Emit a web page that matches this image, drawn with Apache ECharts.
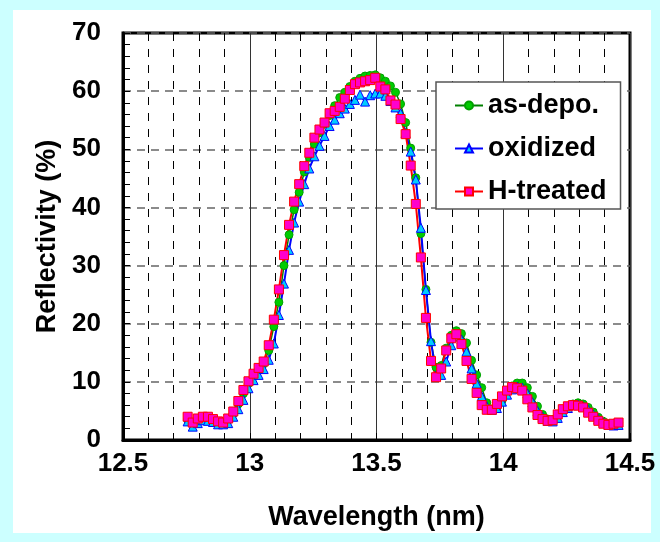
<!DOCTYPE html>
<html>
<head>
<meta charset="utf-8">
<script src="https://cdn.jsdelivr.net/npm/echarts@6/dist/echarts.min.js"></script>
<style>
  html, body { margin: 0; padding: 0; background: #CCFFFF; }
  #panel { position: absolute; left: 13px; top: 10px; width: 638px; height: 523px; background: #FFFFFF; }
  #chart { position: absolute; left: 0; top: 0; width: 660px; height: 542px; }
</style>
</head>
<body>
<div id="panel"></div>
<div id="chart"></div>
<script>
// Wavelength sampling (nm)
const wavelength = [
  12.755, 12.775, 12.795, 12.815, 12.835, 12.855, 12.875, 12.895, 12.915, 12.935,
  12.955, 12.975, 12.995, 13.015, 13.035, 13.055, 13.075, 13.095, 13.115, 13.135,
  13.155, 13.175, 13.195, 13.215, 13.235, 13.255, 13.275, 13.295, 13.315, 13.335,
  13.355, 13.375, 13.395, 13.415, 13.435, 13.455, 13.475, 13.495, 13.515, 13.535,
  13.555, 13.575, 13.595, 13.615, 13.635, 13.655, 13.675, 13.695, 13.715, 13.735,
  13.755, 13.775, 13.795, 13.815, 13.835, 13.855, 13.875, 13.895, 13.915, 13.935,
  13.955, 13.975, 13.995, 14.015, 14.035, 14.055, 14.075, 14.095, 14.115, 14.135,
  14.155, 14.175, 14.195, 14.215, 14.235, 14.255, 14.275, 14.295, 14.315, 14.335,
  14.355, 14.375, 14.395, 14.415, 14.435, 14.455
];

// Reflectivity (%) of each sample
const asDepo = [
  3.5, 2.7, 3.3, 3.7, 3.8, 3.4, 3.0, 2.9, 3.4, 4.5,
  6.2, 8.0, 9.7, 11.0, 12.0, 13.1, 15.4, 19.5, 23.7, 30.0,
  35.3, 39.6, 42.6, 46.1, 48.6, 50.9, 52.8, 54.3, 55.8, 57.5,
  58.9, 59.8, 60.8, 61.7, 62.2, 62.6, 62.7, 62.8, 62.3, 61.7,
  60.9, 59.8, 57.8, 54.6, 50.2, 45.1, 35.5, 25.9, 16.8, 12.5,
  12.8, 15.8, 18.0, 18.8, 18.3, 16.7, 13.7, 11.2, 9.0, 6.4,
  5.3, 5.6, 6.8, 8.2, 9.3, 9.8, 9.8, 9.0, 7.5, 5.8,
  4.4, 3.6, 3.5, 4.0, 5.0, 5.8, 6.2, 6.4, 6.2, 5.6,
  4.8, 3.9, 3.2, 2.8, 2.8, 3.0
];

const oxidized = [
  3.2, 2.3, 2.9, 3.4, 3.3, 3.1, 2.7, 2.7, 2.9, 4.0,
  5.3, 6.9, 8.9, 10.3, 11.2, 12.2, 13.8, 16.6, 21.5, 26.9,
  32.7, 37.4, 41.0, 44.0, 46.7, 48.8, 50.6, 52.3, 54.0, 55.1,
  56.2, 57.0, 57.8, 58.5, 59.4, 58.2, 59.3, 59.6, 59.6, 59.2,
  58.3, 57.2, 56.2, 52.8, 49.6, 44.8, 36.5, 25.8, 17.0, 11.0,
  11.2, 13.5, 16.3, 17.8, 17.3, 15.2, 12.3, 9.7, 7.5, 5.8,
  5.2, 5.5, 6.6, 7.8, 8.7, 9.2, 9.0, 8.0, 6.5, 5.0,
  4.0, 3.3, 3.2, 3.8, 4.8, 5.5, 6.0, 6.1, 5.8, 5.2,
  4.4, 3.6, 3.0, 2.6, 2.5, 2.6
];

const hTreated = [
  4.0, 3.0, 3.7, 4.0, 4.0, 3.6, 3.2, 3.0, 3.7, 4.9,
  6.7, 8.6, 10.1, 11.4, 12.4, 13.5, 16.3, 20.7, 25.9, 31.8,
  37.0, 41.0, 44.0, 47.1, 49.4, 52.0, 53.4, 54.6, 56.2, 56.6,
  57.3, 58.7, 60.2, 61.2, 61.5, 61.7, 61.9, 62.3, 60.8, 60.3,
  58.4, 57.7, 55.2, 52.6, 47.2, 40.6, 31.4, 21.0, 13.6, 10.8,
  12.3, 15.4, 17.5, 18.2, 16.5, 13.6, 10.5, 8.1, 6.0, 5.2,
  5.2, 6.2, 7.5, 8.5, 9.1, 8.9, 8.5, 7.0, 5.6, 4.3,
  3.6, 3.3, 3.4, 4.4, 5.3, 5.8, 6.0, 5.9, 5.6, 4.7,
  4.0, 3.3, 2.8, 2.6, 2.8, 3.0
];

const seriesNames = ['as-depo.', 'oxidized', 'H-treated'];

const FONT = '"Liberation Sans", Arial, sans-serif';

function pairs(values) {
  return values.map((v, i) => [wavelength[i], v]);
}

const chart = echarts.init(document.getElementById('chart'), null, { renderer: 'canvas' });

const option = {
  backgroundColor: 'transparent',
  animation: false,
  grid: {
    left: 123, top: 33, right: 30, bottom: 102,
    show: true, borderColor: '#000', borderWidth: 3, backgroundColor: 'transparent'
  },
  legend: {
    orient: 'vertical',
    left: 436, top: 82,
    padding: [10, 14, 4, 18],
    itemWidth: 28, itemHeight: 10, itemGap: 16,
    backgroundColor: '#fff',
    borderColor: '#555', borderWidth: 1.5,
    textStyle: { fontFamily: FONT, fontWeight: 'bold', fontSize: 27, color: '#000' },
    data: seriesNames
  },
  xAxis: {
    type: 'value', min: 12.5, max: 14.5, interval: 0.5,
    name: 'Wavelength (nm)', nameLocation: 'middle', nameGap: 64,
    nameTextStyle: { fontFamily: FONT, fontWeight: 'bold', fontSize: 27, color: '#000' },
    axisLine: { show: true, onZero: false, lineStyle: { color: '#000', width: 3 } },
    axisTick: { show: true, inside: true, length: 7, lineStyle: { color: '#000', width: 1 } },
    minorTick: { show: true, splitNumber: 5, length: 7, lineStyle: { color: '#000', width: 1 } },
    axisLabel: { fontFamily: FONT, fontWeight: 'bold', fontSize: 26, color: '#000', margin: 11 },
    splitLine: { show: true, lineStyle: { color: '#333', width: 1, type: 'solid' } },
    minorSplitLine: { show: true, lineStyle: { color: '#000', width: 1, type: [8, 8] } }
  },
  yAxis: {
    type: 'value', min: 0, max: 70, interval: 10,
    name: 'Reflectivity (%)', nameLocation: 'middle', nameGap: 62,
    nameTextStyle: { fontFamily: FONT, fontWeight: 'bold', fontSize: 27, color: '#000' },
    axisLine: { show: true, lineStyle: { color: '#000', width: 3 } },
    axisTick: { show: true, inside: true, length: 7, lineStyle: { color: '#000', width: 1 } },
    minorTick: { show: true, splitNumber: 5, length: 7, lineStyle: { color: '#000', width: 1 } },
    axisLabel: { fontFamily: FONT, fontWeight: 'bold', fontSize: 26, color: '#000', margin: 22 },
    splitLine: { show: true, lineStyle: { color: '#666', width: 1.5, type: [8, 6] } }
  },
  series: [
    {
      name: seriesNames[0], type: 'line', data: pairs(asDepo),
      symbol: 'circle', symbolSize: 8,
      lineStyle: { color: '#008000', width: 1.5 },
      itemStyle: { color: '#00CC00', borderColor: '#00A000', borderWidth: 1 }
    },
    {
      name: seriesNames[1], type: 'line', data: pairs(oxidized),
      symbol: 'triangle', symbolSize: 9,
      lineStyle: { color: '#0000FF', width: 2 },
      itemStyle: { color: '#00CCFF', borderColor: '#0000FF', borderWidth: 1 }
    },
    {
      name: seriesNames[2], type: 'line', data: pairs(hTreated),
      symbol: 'rect', symbolSize: 9,
      lineStyle: { color: '#FF0000', width: 2 },
      itemStyle: { color: '#FF00CC', borderColor: '#FF0000', borderWidth: 1 }
    }
  ]
};

chart.setOption(option);
</script>
</body>
</html>
